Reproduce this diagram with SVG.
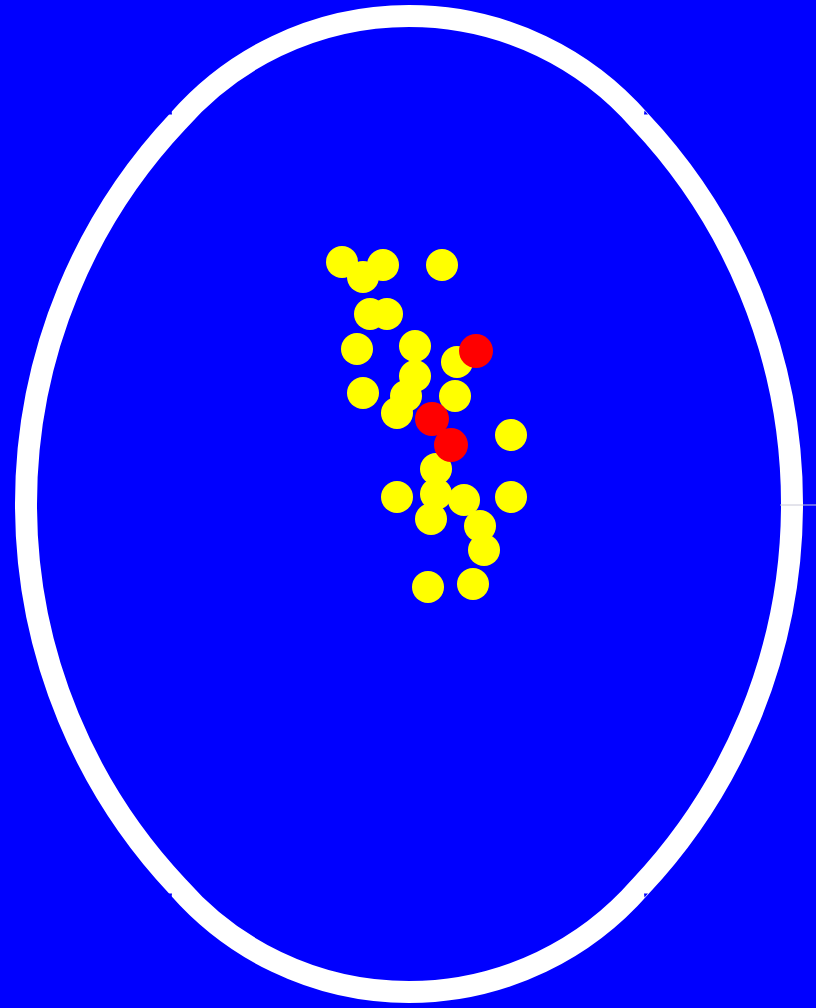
<svg xmlns="http://www.w3.org/2000/svg" width="816" height="1008" viewBox="0 0 816 1008">
<style>
.ring{fill:none;stroke:#ffffff;stroke-width:22;stroke-linejoin:round}
.notch{fill:#0000ff}
.y{fill:#ffff00}
.r{fill:#ff0000}
</style>
<rect x="0" y="0" width="816" height="1008" fill="#0000ff"/>
<g id="ring">
<path class="ring" d="M 178 121 A 306.6 306.6 0 0 1 640 121 A 558.5 558.5 0 0 1 640 887 A 306.6 306.6 0 0 1 178 887 A 558.5 558.5 0 0 1 178 121 Z"/>
<polygon class="notch" points="168,114.5 171.5,110.5 172,114.5"/>
<polygon class="notch" points="648,114.5 644.5,110.5 644,114.5"/>
<polygon class="notch" points="168,893.5 171.5,897.5 172,893.5"/>
<polygon class="notch" points="648,893.5 644.5,897.5 644,893.5"/>
<line x1="780" y1="505" x2="816" y2="505" stroke="#c8c8d8" stroke-width="1"/>
</g>
<g id="yellow-dots">
<circle class="y" cx="342" cy="262" r="16"/>
<circle class="y" cx="383" cy="265" r="16"/>
<circle class="y" cx="363" cy="277" r="16"/>
<circle class="y" cx="442" cy="265" r="16"/>
<circle class="y" cx="370" cy="314" r="16"/>
<circle class="y" cx="387" cy="314" r="16"/>
<circle class="y" cx="357" cy="349" r="16"/>
<circle class="y" cx="415" cy="346" r="16"/>
<circle class="y" cx="457" cy="362" r="16"/>
<circle class="y" cx="415" cy="376" r="16"/>
<circle class="y" cx="406" cy="396" r="16"/>
<circle class="y" cx="363" cy="393" r="16"/>
<circle class="y" cx="455" cy="396" r="16"/>
<circle class="y" cx="397" cy="413" r="16"/>
<circle class="y" cx="511" cy="435" r="16"/>
<circle class="y" cx="436" cy="469" r="16"/>
<circle class="y" cx="436" cy="494" r="16"/>
<circle class="y" cx="397" cy="497" r="16"/>
<circle class="y" cx="431" cy="519" r="16"/>
<circle class="y" cx="464" cy="500" r="16"/>
<circle class="y" cx="511" cy="497" r="16"/>
<circle class="y" cx="480" cy="526" r="16"/>
<circle class="y" cx="484" cy="550" r="16"/>
<circle class="y" cx="428" cy="587" r="16"/>
<circle class="y" cx="473" cy="584" r="16"/>
</g>
<g id="red-dots">
<circle class="r" cx="476" cy="351" r="17"/>
<circle class="r" cx="432" cy="419" r="17"/>
<circle class="r" cx="451" cy="445" r="17"/>
</g>
</svg>
